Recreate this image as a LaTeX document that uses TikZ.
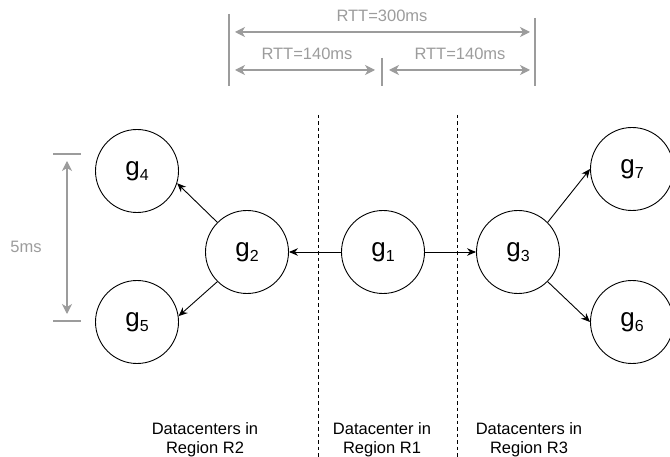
\documentclass[tikz,border=0pt]{standalone}
\usepackage{fontspec}
\setmainfont{Liberation Sans}
\usepackage{xcolor}
\usepackage{tikz}
\usetikzlibrary{arrows.meta,positioning,calc}

\definecolor{dimgray}{HTML}{9C9C9C}
\newcommand{\gname}[1]{g\raisebox{-5pt}{\fontsize{16}{16}\selectfont #1}}

\tikzset{
	gnode/.style={circle,draw,line width=0.9pt,minimum size=83pt,inner sep=0pt,font=\fontsize{26}{30}\selectfont},
	link/.style={-{Stealth[length=9pt,width=7.5pt]},line width=0.9pt},
	dimline/.style={draw=dimgray,line width=1.1pt},
	dimarrow/.style={{Stealth[length=10pt,width=10pt,inset=3pt]}-{Stealth[length=10pt,width=10pt,inset=3pt]},draw=dimgray,fill=dimgray,line width=1.1pt},
	dimlabel/.style={text=dimgray,font=\fontsize{16.5}{18}\selectfont,inner sep=0pt},
	regionlabel/.style={align=center,font=\fontsize{16.5}{19}\selectfont,inner sep=0pt},
	border/.style={dashed,dash pattern=on 3.5pt off 3pt,line width=1pt}
}

\begin{document}
\begin{tikzpicture}[x=1pt,y=-1pt]
		\useasboundingbox (0,0) rectangle (670,457);

		% Datacenters
		\node[gnode] (g1) at (383,252) {\gname{1}};
		\node[gnode] (g2) at (247,252) {\gname{2}};
		\node[gnode] (g3) at (518,252) {\gname{3}};
		\node[gnode] (g4) at (137,171) {\gname{4}};
		\node[gnode] (g5) at (137,322) {\gname{5}};
		\node[gnode] (g6) at (632,322) {\gname{6}};
		\node[gnode] (g7) at (632,169) {\gname{7}};

		\draw[link] (g1.west) -- (g2.east);
		\draw[link] (g1.east) -- (g3.west);
		\draw[link] (g2.135) -- (g4.-17);
		\draw[link] (g2.225) -- (g5.8);
		\draw[link] (g3.45) -- (g7.west);
		\draw[link] (g3.-45) -- (g6.west);

		% Region borders
		\coordinate (b1top) at (318,115);
		\coordinate (b1bot) at (318,457);
		\coordinate (b2top) at (457,115);
		\coordinate (b2bot) at (457,457);
		\draw[border] (b1top) -- (b1bot);
		\draw[border] (b2top) -- (b2bot);

		\node[regionlabel] (lblR2) at (205,440) {Datacenters in\\Region R2};
		\node[regionlabel] (lblR1) at (382,440) {Datacenter in\\Region R1};
		\node[regionlabel] (lblR3) at (529,440) {Datacenters in\\Region R3};

		% RTT dimensions
		\coordinate (tl) at (229,14);
		\coordinate (tlb) at (229,86);
		\coordinate (tr) at (535,18);
		\coordinate (trb) at (535,86);
		\coordinate (tm) at (382,58);
		\coordinate (tmb) at (382,86);
		\draw[dimline] (tl) -- (tlb);
		\draw[dimline] (tr) -- (trb);
		\draw[dimline] (tm) -- (tmb);

		\coordinate (a300l) at (235,32);
		\coordinate (a300r) at (530,32);
		\coordinate (a140la) at (235,70);
		\coordinate (a140lb) at (375,70);
		\coordinate (a140ra) at (389,70);
		\coordinate (a140rb) at (530,70);
		\draw[dimarrow] (a300l) -- (a300r);
		\draw[dimarrow] (a140la) -- (a140lb);
		\draw[dimarrow] (a140ra) -- (a140rb);

		\node[dimlabel] (rtt300) at (382,16) {RTT=300ms};
		\node[dimlabel] (rtt140l) at (307,54) {RTT=140ms};
		\node[dimlabel] (rtt140r) at (460,54) {RTT=140ms};

		% 5ms dimension
		\coordinate (k1a) at (53,154);
		\coordinate (k1b) at (81,154);
		\coordinate (k2a) at (53,321);
		\coordinate (k2b) at (81,321);
		\draw[dimline] (k1a) -- (k1b);
		\draw[dimline] (k2a) -- (k2b);
		\coordinate (v5a) at (67,161);
		\coordinate (v5b) at (67,314);
		\draw[dimarrow] (v5a) -- (v5b);
		\node[dimlabel] (lbl5ms) at (26,247) {5ms};
	\end{tikzpicture}
\end{document}
